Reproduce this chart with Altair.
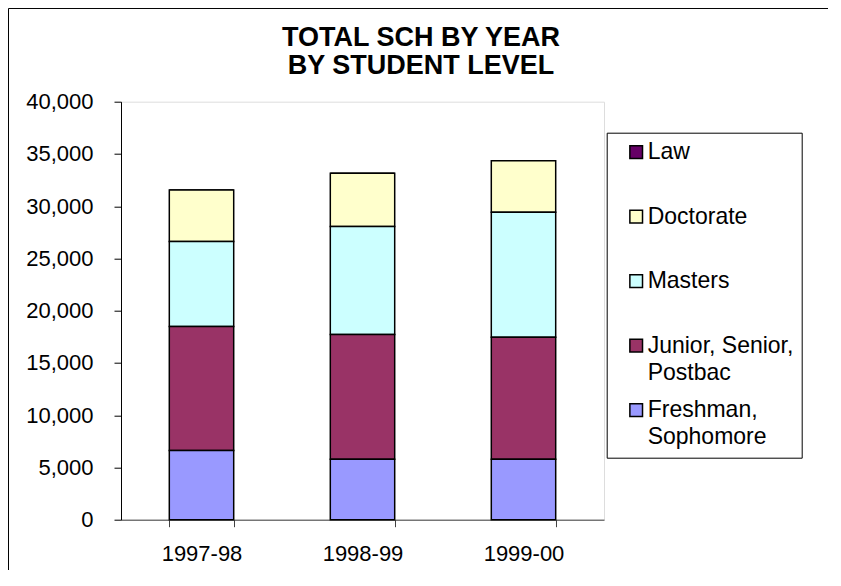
import altair as alt
import pandas as pd

years = ["1997-98", "1998-99", "1999-00"]
levels = ["Law", "Doctorate", "Masters", "Junior, Senior, Postbac", "Freshman, Sophomore"]
stack_rank = [4, 3, 2, 1, 0]
colors = ["#660066", "#FFFFCC", "#CCFFFF", "#993366", "#9999FF"]

freshman = [6610, 5780, 5780]
junior = [11870, 11930, 11680]
masters = [8140, 10350, 11970]
doctorate = [4920, 5100, 4910]
law = [0, 0, 0]

y_ticks = [0, 5000, 10000, 15000, 20000, 25000, 30000, 35000, 40000]

series = {
    "Law": law,
    "Doctorate": doctorate,
    "Masters": masters,
    "Junior, Senior, Postbac": junior,
    "Freshman, Sophomore": freshman,
}
rows = []
for lvl, rk in zip(levels, stack_rank):
    for yr, v in zip(years, series[lvl]):
        rows.append({"year": yr, "level": lvl, "value": v, "ord": rk})
df = pd.DataFrame(rows)

FONT = "Liberation Sans"

label_expr = (
    "datum.label == 'Junior, Senior, Postbac' ? ['Junior, Senior,', 'Postbac'] : "
    "datum.label == 'Freshman, Sophomore' ? ['Freshman,', 'Sophomore'] : datum.label"
)

bars = alt.Chart(df).mark_bar(stroke="black", strokeWidth=1.5).encode(
    x=alt.X(
        "year:N",
        sort=years,
        scale=alt.Scale(paddingInner=0.6, paddingOuter=0.3),
        axis=alt.Axis(
            title=None, labelAngle=0, tickBand="extent", tickSize=7,
            labelPadding=17, labelFontSize=22, labelFont=FONT, labelColor="black",
            domainColor="#404040", tickColor="#404040", grid=False,
        ),
    ),
    y=alt.Y(
        "value:Q",
        stack="zero",
        scale=alt.Scale(domain=[0, 40000], nice=False),
        axis=alt.Axis(
            title=None, values=y_ticks, format=",.0f", tickSize=7, labelPadding=21,
            labelFontSize=22, labelFont=FONT, labelColor="black", grid=False,
            domainColor="black", tickColor="black",
        ),
    ),
    color=alt.Color(
        "level:N",
        scale=alt.Scale(domain=levels, range=colors),
        legend=alt.Legend(
            title=None, orient="none", legendX=485.7, legendY=31.0,
            symbolType="square", symbolSize=160, symbolStrokeColor="black",
            symbolStrokeWidth=1.5, symbolOpacity=1, symbolOffset=10,
            labelFontSize=23, labelFont=FONT, labelColor="black", labelLimit=300,
            labelOffset=0, padding=8, strokeColor="black", fillColor="white",
            rowPadding=13.5, gridAlign="all", labelExpr=label_expr,
        ),
    ),
    order=alt.Order("ord:Q", sort="ascending"),
)

frame = alt.Chart(pd.DataFrame({"a": [0]})).mark_rect(
    fillOpacity=0, stroke="black", strokeWidth=1
).encode(
    x=alt.value(-112.5), x2=alt.value(900), y=alt.value(-93.2), y2=alt.value(700)
)

chart = alt.layer(frame, bars).properties(
    width=483,
    height=418,
    autosize=alt.AutoSizeParams(type="none"),
    padding={"left": 113, "top": 93.7, "right": 224, "bottom": 50},
    title=alt.TitleParams(
        text=["TOTAL SCH BY YEAR", "BY STUDENT LEVEL"],
        fontSize=27, font=FONT, fontWeight="bold", anchor="middle", frame="group",
        dx=58.5, offset=-71.7, lineHeight=28, color="black",
    ),
).configure_view(stroke="#808080", strokeWidth=1).configure(
    background="white", style={"guide-label": {"lineHeight": 27}}
)

chart.save("out.html", embed_options={"renderer": "svg", "actions": False})
